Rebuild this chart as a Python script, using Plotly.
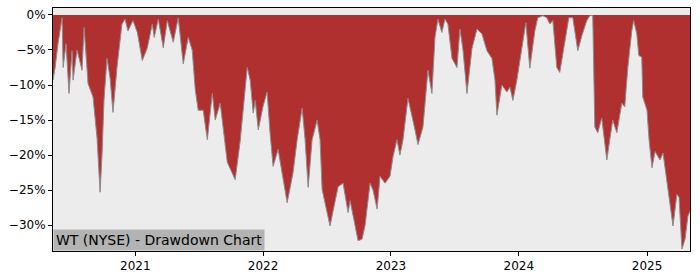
import datetime as dt
import plotly.graph_objects as go

# decimal-year timestamps and drawdown (%)
years = [2020.359, 2020.375, 2020.398, 2020.430, 2020.438, 2020.461, 2020.484, 2020.508, 2020.516, 2020.547,
         2020.586, 2020.602, 2020.633, 2020.672, 2020.703, 2020.727, 2020.742, 2020.758, 2020.781, 2020.805,
         2020.828, 2020.859, 2020.898, 2020.922, 2020.945, 2020.984, 2021.016, 2021.055, 2021.094, 2021.133,
         2021.148, 2021.180, 2021.219, 2021.250, 2021.297, 2021.336, 2021.375, 2021.414, 2021.445, 2021.469,
         2021.492, 2021.531, 2021.563, 2021.602, 2021.625, 2021.664, 2021.719, 2021.781, 2021.820, 2021.875,
         2021.898, 2021.922, 2021.938, 2021.961, 2022.000, 2022.031, 2022.055, 2022.078, 2022.117, 2022.188,
         2022.234, 2022.266, 2022.305, 2022.328, 2022.352, 2022.383, 2022.422, 2022.445, 2022.461, 2022.523,
         2022.586, 2022.625, 2022.664, 2022.680, 2022.742, 2022.773, 2022.797, 2022.836, 2022.859, 2022.891,
         2022.914, 2022.953, 2022.992, 2023.016, 2023.047, 2023.070, 2023.094, 2023.133, 2023.188, 2023.211,
         2023.250, 2023.289, 2023.320, 2023.344, 2023.367, 2023.398, 2023.422, 2023.445, 2023.477, 2023.516,
         2023.539, 2023.563, 2023.594, 2023.633, 2023.672, 2023.711, 2023.750, 2023.789, 2023.813, 2023.828,
         2023.867, 2023.906, 2023.930, 2023.953, 2023.984, 2024.008, 2024.031, 2024.055, 2024.086, 2024.125,
         2024.148, 2024.188, 2024.219, 2024.242, 2024.266, 2024.297, 2024.320, 2024.359, 2024.391, 2024.422,
         2024.461, 2024.492, 2024.531, 2024.555, 2024.578, 2024.594, 2024.617, 2024.648, 2024.688, 2024.711,
         2024.734, 2024.766, 2024.805, 2024.828, 2024.852, 2024.883, 2024.898, 2024.922, 2024.938, 2024.961,
         2024.969, 2025.000, 2025.016, 2025.039, 2025.063, 2025.102, 2025.125, 2025.164, 2025.203, 2025.234,
         2025.250, 2025.273, 2025.297, 2025.320, 2025.336]

drawdown = [-9.3, -7.6, -4.1, -0.4, -7.5, -4.1, -11.2, -5.1, -9.3, -5.0,
            -7.9, -1.8, -9.8, -11.7, -17.5, -25.3, -20.0, -12.0, -6.2, -9.0,
            -13.9, -7.5, -1.3, -0.6, -2.3, -0.8, -2.5, -6.5, -4.7, -1.3,
            -3.2, -0.6, -4.7, -0.8, -3.9, -0.4, -7.0, -3.2, -5.0, -10.7,
            -13.6, -13.6, -17.8, -11.2, -15.0, -12.6, -21.0, -23.5, -18.0, -7.5,
            -9.3, -14.0, -12.2, -16.4, -13.0, -11.0, -17.0, -21.6, -19.2, -26.8,
            -22.5, -17.8, -13.3, -17.8, -24.6, -17.8, -15.0, -17.8, -24.9, -30.1,
            -24.5, -24.0, -28.2, -26.5, -32.2, -32.0, -30.0, -24.0, -25.0, -27.7,
            -23.0, -24.0, -23.0, -20.2, -17.8, -20.0, -17.8, -11.9, -16.4, -18.5,
            -16.0, -7.9, -11.2, -3.2, -0.6, -2.5, -0.6, -1.3, -6.2, -7.5,
            -2.0, -5.0, -11.2, -4.8, -2.0, -2.7, -5.1, -6.2, -9.3, -14.3,
            -10.0, -11.0, -10.3, -12.2, -9.3, -6.5, -4.1, -1.1, -7.6, -2.3,
            -0.4, -0.1, -0.4, -1.3, -0.8, -7.5, -8.2, -3.7, -0.4, -0.4,
            -5.1, -3.0, -0.8, -0.1, -0.1, -16.0, -16.8, -14.7, -20.7, -17.8,
            -15.0, -16.8, -12.6, -13.1, -7.5, -2.3, -0.8, -2.7, -5.8, -6.0,
            -11.7, -13.6, -17.8, -21.8, -19.5, -20.7, -19.7, -24.9, -30.1, -25.6,
            -26.0, -33.4, -32.0, -28.7, -28.0]

y_tick_vals = [0, -5, -10, -15, -20, -25, -30]
y_tick_text = ["0%", "\u22125%", "\u221210%", "\u221215%", "\u221220%", "\u221225%", "\u221230%"]
x_tick_vals = ["2021-01-01", "2022-01-01", "2023-01-01", "2024-01-01", "2025-01-01"]
x_tick_text = ["2021", "2022", "2023", "2024", "2025"]
title_text = "WT (NYSE) - Drawdown Chart"


def to_date(y):
    base = dt.datetime(int(y), 1, 1)
    return base + dt.timedelta(days=(y - int(y)) * 365.25)


dates = [to_date(y) for y in years]

fig = go.Figure()
fig.add_trace(go.Scatter(
    x=dates, y=drawdown, mode="lines",
    line=dict(color="#8c8c8c", width=1),
    fill="tozeroy", fillcolor="#b03030",
    hoverinfo="skip", showlegend=False,
))

fig.update_layout(
    width=700, height=280,
    margin=dict(l=53, r=10, t=7, b=28),
    paper_bgcolor="white", plot_bgcolor="#ececec",
    font=dict(family="DejaVu Sans", size=12, color="black"),
    showlegend=False,
)
fig.update_xaxes(
    range=[to_date(2020.359), to_date(2025.336)],
    tickvals=x_tick_vals, ticktext=x_tick_text,
    ticks="outside", ticklen=4, tickcolor="black",
    tickfont=dict(size=12),
    showgrid=False, zeroline=False,
    showline=True, linecolor="black", linewidth=1, mirror=True,
)
fig.update_yaxes(
    range=[-33.68, 0.99],
    tickvals=y_tick_vals, ticktext=y_tick_text,
    ticks="outside", ticklen=4, tickcolor="black",
    tickfont=dict(size=12),
    showgrid=False, zeroline=False,
    showline=True, linecolor="black", linewidth=1, mirror=True,
)
fig.add_annotation(
    text=title_text, xref="paper", yref="paper", x=0, y=0,
    xanchor="left", yanchor="bottom", showarrow=False,
    bgcolor="#b3b3b3", borderpad=2,
    font=dict(family="DejaVu Sans", size=14, color="black"),
)

fig.write_html("out.html")
